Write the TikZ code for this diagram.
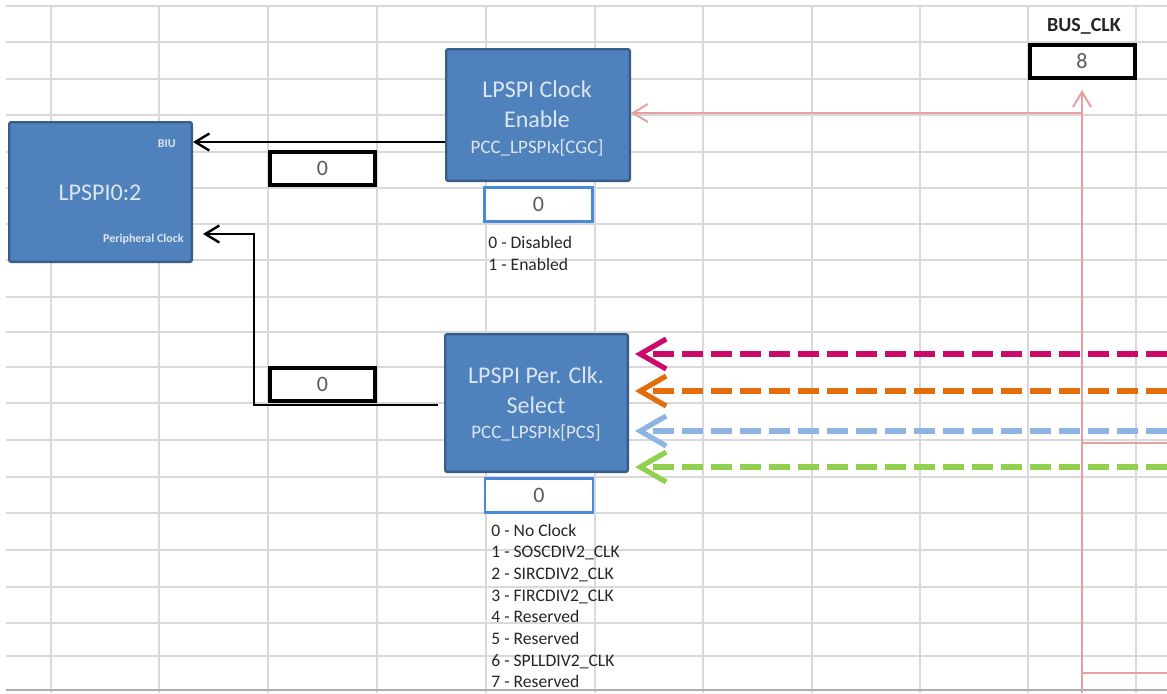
\documentclass[tikz,border=0pt]{standalone}
\usepackage{fontspec}
\setmainfont{Carlito}
\usepackage{tikz}
\usetikzlibrary{arrows.meta}
\definecolor{cellgrid}{HTML}{D9D9D9}
\definecolor{blkfill}{HTML}{4F81BD}
\definecolor{blkedge}{HTML}{385D8A}
\definecolor{blktext}{HTML}{DCE6F2}
\definecolor{valblue}{HTML}{4A88DA}
\definecolor{busred}{HTML}{E6A0A0}
\definecolor{numgray}{HTML}{595959}
\definecolor{srcmag}{HTML}{CC0A6A}
\definecolor{srcorg}{HTML}{E46C0A}
\definecolor{srcblu}{HTML}{8DB4E2}
\definecolor{srcgrn}{HTML}{92D050}
\tikzstyle{block} = [draw=blkedge, fill=blkfill, line width=1.2pt, rectangle, rounded corners=1pt, inner sep=0pt]
\tikzstyle{blocktxt} = [text=blktext, inner sep=0pt, anchor=base, font=\fontsize{12}{14}\selectfont]
\tikzstyle{regtxt} = [blocktxt, font=\fontsize{9.5}{11}\selectfont]
\tikzstyle{pintxt} = [text=blktext, inner sep=0pt, anchor=base east, font=\bfseries\fontsize{6}{7}\selectfont]
\tikzstyle{regbox} = [draw=black, fill=white, line width=2pt, rectangle, minimum width=52.5pt, minimum height=16.5pt, inner sep=0pt, text=numgray, font=\fontsize{11}{11}\selectfont]
\tikzstyle{fieldbox} = [regbox, draw=valblue, line width=1.4pt, minimum width=54pt, minimum height=17pt]
\tikzstyle{optlabel} = [anchor=base west, inner sep=0pt, font=\fontsize{8.8}{10}\selectfont, text=black!85]
\tikzstyle{wire} = [line width=1.2pt, -{Straight Barb[length=7pt,width=8.5pt]}]
\tikzstyle{buswire} = [busred, line width=1pt]
\tikzstyle{srcwire} = [line width=2.6pt, dash pattern=on 10.5pt off 4pt, -{Straight Barb[length=13pt,width=15pt]}]
\begin{document}
\begin{tikzpicture}[x=0.5pt, y=-0.5pt]
\useasboundingbox[fill=white] (0,0) rectangle (1167,693);
% sheet cells
\foreach \x in {51,159,268,377,486,595,703,812,920,1028,1136}
    \draw[cellgrid, line width=0.6pt] (\x,6) -- (\x,693);
\foreach \y in {6,42,79,115,152,188,224,260,297,332,367,403,440,477,513,550,587,623,656}
    \draw[cellgrid, line width=0.6pt] (6,\y) -- (1167,\y);
\draw[cellgrid!80!black, line width=0.9pt] (6,690) -- (1167,690);

% blocks
\node[block, minimum width=91.3pt, minimum height=69.8pt] (lpspi) at (100.5,192) {};
\node[blocktxt] (lpspit) at (100,200) {LPSPI0:2};
\node[pintxt] (biu) at (176,147) {BIU};
\node[pintxt] (perclk) at (184,242) {Peripheral Clock};

\node[block, minimum width=91.8pt, minimum height=65.8pt] (cgc) at (538,115) {};
\node[blocktxt] (cgct1) at (537,97) {LPSPI Clock};
\node[blocktxt] (cgct2) at (537,127) {Enable};
\node[regtxt] (cgct3) at (537,153) {PCC\_LPSPIx[CGC]};

\node[block, minimum width=91.3pt, minimum height=68.8pt] (pcs) at (536.5,403) {};
\node[blocktxt] (pcst1) at (536,383) {LPSPI Per. Clk.};
\node[blocktxt] (pcst2) at (536,413) {Select};
\node[regtxt] (pcst3) at (536,438) {PCC\_LPSPIx[PCS]};

% register values
\node[fieldbox] (cgcval) at (538.5,204.5) {0};
\node[fieldbox] (pcsval) at (539,495.5) {0};
\node[regbox] (enval) at (322.5,168) {0};
\node[regbox] (selval) at (322.5,384.5) {0};
\node[regbox] (busval) at (1082,61.5) {8};
\node[anchor=base, inner sep=0pt, font=\bfseries\fontsize{10}{12}\selectfont, text=black!85] (buslbl) at (1084,31) {BUS\_CLK};

\node[optlabel] (cgcopt0) at (488,248) {0 - Disabled};
\node[optlabel] (cgcopt1) at (488,270) {1 - Enabled};
\foreach \txt [count=\i from 0] in {No Clock, SOSCDIV2\_CLK, SIRCDIV2\_CLK, FIRCDIV2\_CLK, Reserved, Reserved, SPLLDIV2\_CLK, Reserved}
    \node[optlabel] (pcsopt\i) at (491,{536+21.7*\i}) {\i{} - \txt};

% clock gate and clock select wires
\coordinate (gate) at (445,142);
\coordinate (turn) at (254,234);
\coordinate (selout) at (438,405);
\draw[wire] (gate) -- (lpspi.east |- gate);
\draw[wire] (selout) -| (turn) -- ([xshift=5pt]lpspi.east |- turn);

% bus clock
\coordinate (busfeed) at (1082,693);
\coordinate (cgcin) at (1082,113);
\coordinate (tapA) at (1167,443);
\coordinate (tapB) at (1167,673);
\draw[buswire, -{Straight Barb[length=7.5pt,width=9pt]}] (busfeed) -- ([yshift=-5pt]busval.south);
\draw[buswire, -{Straight Barb[length=7.5pt,width=9pt]}] (cgcin) -- (cgcin -| cgc.east);
\draw[buswire] (busfeed |- tapA) -- (tapA);
\draw[buswire] (busfeed |- tapB) -- (tapB);

% clock sources
\coordinate (srcA) at (1167,354);
\coordinate (srcB) at (1167,391);
\coordinate (srcC) at (1167,431);
\coordinate (srcD) at (1167,467);
\draw[srcwire, srcmag] (srcA) -- ([xshift=3pt]pcs.east |- srcA);
\draw[srcwire, srcorg] (srcB) -- ([xshift=3pt]pcs.east |- srcB);
\draw[srcwire, srcblu] (srcC) -- ([xshift=3pt]pcs.east |- srcC);
\draw[srcwire, srcgrn] (srcD) -- ([xshift=3pt]pcs.east |- srcD);
\end{tikzpicture}
\end{document}
